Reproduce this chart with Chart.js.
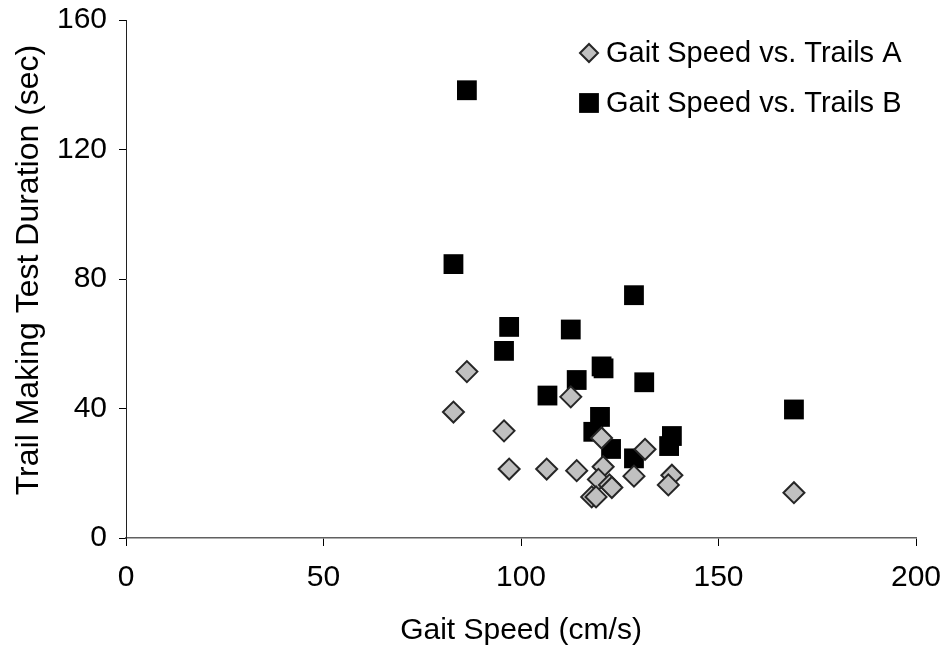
<!DOCTYPE html>
<html>
<head>
<meta charset="utf-8">
<title>Gait Speed vs. Trail Making Test</title>
<script src="https://cdn.jsdelivr.net/npm/chart.js@4.4.1/dist/chart.umd.min.js"></script>
<style>
    html, body { margin: 0; padding: 0; background: #ffffff; }
    #wrap { width: 946px; height: 664px; }
</style>
</head>
<body>
<div id="wrap"><canvas id="gaitChart" width="946" height="664"></canvas></div>
<script>
// Gait speed (cm/s) and test duration (sec) per subject
const trailsASpeed = [86.3, 82.9, 95.7, 112.6, 97.0, 106.5, 114.1, 120.8, 131.4, 128.6,
    138.2, 137.3, 119.6, 122.4, 123.0, 117.9, 119.0, 120.4, 169.1];
const trailsATime = [51.4, 38.9, 33.1, 43.6, 21.3, 21.3, 20.8, 22.0, 27.4, 19.1,
    19.4, 16.4, 18.1, 16.4, 15.6, 12.7, 12.7, 30.9, 14.0];

const trailsBSpeed = [86.3, 82.9, 128.6, 97.0, 112.6, 95.7, 120.4, 120.9, 114.1, 131.2,
    106.7, 120.0, 118.3, 122.8, 128.6, 138.2, 137.5, 169.1];
const trailsBTime = [138.3, 84.6, 75.0, 65.2, 64.4, 57.8, 53.0, 52.4, 48.8, 48.1,
    44.0, 37.4, 32.8, 27.5, 24.6, 31.5, 28.4, 39.7];

const seriesNames = ['Gait Speed vs. Trails A', 'Gait Speed vs. Trails B'];
const xTicks = [0, 50, 100, 150, 200];
const yTicks = [0, 40, 80, 120, 160];
const yTitle = 'Trail Making Test Duration (sec)';

const FONT = '"Liberation Sans", Arial, sans-serif';

function toPoints(xs, ys) {
    return xs.map((x, i) => ({ x: x, y: ys[i] }));
}

// legend box in the upper right of the plot, plus the rotated y title
const extras = {
    id: 'extras',
    afterDraw(chart) {
        const ctx = chart.ctx;
        const rows = [
            { y: 53, ds: chart.data.datasets[0], r: 9 },
            { y: 103, ds: chart.data.datasets[1], r: 14 }
        ];
        ctx.save();
        rows.forEach(row => {
            ctx.fillStyle = row.ds.backgroundColor;
            ctx.strokeStyle = row.ds.borderColor;
            ctx.lineWidth = row.ds.borderWidth;
            Chart.helpers.drawPoint(ctx, {
                pointStyle: row.ds.pointStyle,
                radius: row.r,
                borderWidth: row.ds.borderWidth
            }, 589, row.y);
            ctx.fillStyle = '#000000';
            ctx.font = '29px ' + FONT;
            ctx.textBaseline = 'middle';
            ctx.textAlign = 'left';
            ctx.fillText(row.ds.label, 606, row.y + 1);
        });

        ctx.translate(29, 270);
        ctx.rotate(-Math.PI / 2);
        ctx.font = '32px ' + FONT;
        ctx.textAlign = 'center';
        ctx.fillText(yTitle, 0, 0);
        ctx.restore();
    }
};

new Chart(document.getElementById('gaitChart'), {
    type: 'scatter',
    data: {
        datasets: [
            {
                label: seriesNames[0],
                data: toPoints(trailsASpeed, trailsATime),
                pointStyle: 'rectRot',
                pointRadius: 10.5,
                backgroundColor: '#c0c0c0',
                borderColor: '#262626',
                borderWidth: 2
            },
            {
                label: seriesNames[1],
                data: toPoints(trailsBSpeed, trailsBTime),
                pointStyle: 'rect',
                pointRadius: 14,
                backgroundColor: '#000000',
                borderColor: '#000000',
                borderWidth: 0
            }
        ]
    },
    options: {
        responsive: false,
        animation: false,
        events: [],
        layout: { padding: { top: 20, right: 30, left: 0, bottom: 0 } },
        plugins: {
            legend: { display: false },
            tooltip: { enabled: false }
        },
        scales: {
            x: {
                type: 'linear',
                min: 0,
                max: 200,
                afterBuildTicks: axis => { axis.ticks = xTicks.map(v => ({ value: v })); },
                afterFit: axis => {
                    axis.height = 126;
                    axis.paddingLeft = 0;
                    axis.paddingRight = 0;
                },
                grid: { drawOnChartArea: false, drawTicks: true, tickLength: 8, color: '#000000' },
                border: { display: true, color: '#606060', width: 1.5 },
                ticks: {
                    color: '#000000',
                    font: { family: FONT, size: 30 },
                    padding: 14,
                    maxRotation: 0
                },
                title: {
                    display: true,
                    text: 'Gait Speed (cm/s)',
                    color: '#000000',
                    font: { family: FONT, size: 30 },
                    padding: { top: 0, bottom: 15 }
                }
            },
            y: {
                type: 'linear',
                min: 0,
                max: 160,
                afterBuildTicks: axis => { axis.ticks = yTicks.map(v => ({ value: v })); },
                afterFit: axis => {
                    axis.width = 126;
                    axis.paddingTop = 0;
                    axis.paddingBottom = 0;
                },
                grid: { drawOnChartArea: false, drawTicks: true, tickLength: 7, color: '#000000' },
                border: { display: true, color: '#202020', width: 1 },
                ticks: {
                    color: '#000000',
                    font: { family: FONT, size: 30 },
                    padding: 12
                },
                title: { display: false }
            }
        }
    },
    plugins: [extras]
});
</script>
</body>
</html>
